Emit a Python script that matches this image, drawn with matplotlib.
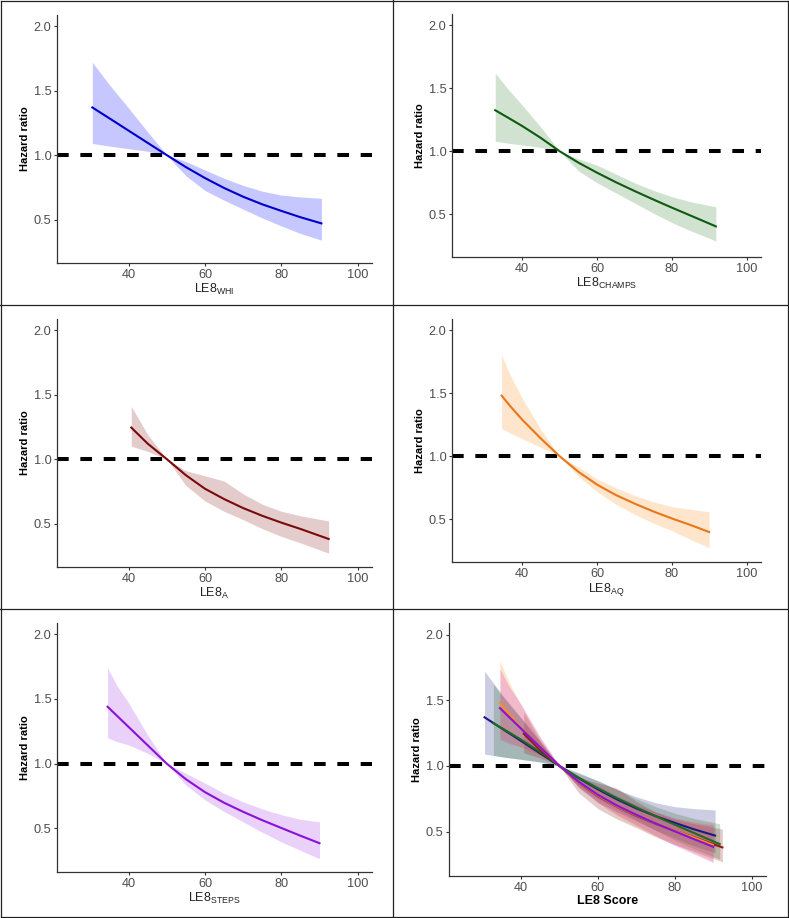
import matplotlib
matplotlib.use("Agg")
import matplotlib.pyplot as plt
from matplotlib.lines import Line2D

plt.rcParams['font.family'] = ['Liberation Sans', 'DejaVu Sans']
plt.rcParams['mathtext.fontset'] = 'custom'
plt.rcParams['mathtext.rm'] = 'Liberation Sans'
plt.rcParams['mathtext.bf'] = 'Liberation Sans:bold'

# values (score -> hazard ratio, lower / upper 95% CI)
whi_x = [30.5, 35, 40, 45, 50, 55, 60, 65, 70, 75, 80, 85, 90.5]
whi_hr = [1.37, 1.285, 1.19, 1.095, 1.00, 0.907, 0.822, 0.745, 0.677, 0.618, 0.567, 0.518, 0.47]
whi_lo = [1.09, 1.07, 1.05, 1.03, 1.00, 0.84, 0.725, 0.65, 0.58, 0.512, 0.45, 0.392, 0.34]
whi_hi = [1.72, 1.545, 1.365, 1.18, 1.00, 0.95, 0.885, 0.82, 0.765, 0.72, 0.69, 0.675, 0.665]

champs_x = [32.8, 36, 40, 45, 50, 55, 60, 65, 70, 75, 80, 85, 91.7]
champs_hr = [1.325, 1.27, 1.20, 1.105, 1.00, 0.91, 0.83, 0.755, 0.685, 0.618, 0.553, 0.49, 0.405]
champs_lo = [1.08, 1.065, 1.05, 1.03, 1.00, 0.845, 0.75, 0.67, 0.59, 0.51, 0.435, 0.37, 0.29]
champs_hi = [1.62, 1.50, 1.365, 1.19, 1.00, 0.94, 0.89, 0.82, 0.75, 0.69, 0.64, 0.60, 0.56]

a_x = [40.7, 45, 50, 55, 60, 65, 70, 75, 80, 85, 92.4]
a_hr = [1.245, 1.12, 1.00, 0.875, 0.77, 0.69, 0.62, 0.56, 0.507, 0.458, 0.38]
a_lo = [1.10, 1.06, 1.00, 0.795, 0.675, 0.595, 0.53, 0.46, 0.40, 0.35, 0.27]
a_hi = [1.41, 1.19, 1.00, 0.91, 0.87, 0.83, 0.73, 0.65, 0.595, 0.56, 0.52]

aq_x = [34.5, 37, 40, 45, 50, 55, 60, 65, 70, 75, 80, 85, 89.9]
aq_hr = [1.48, 1.39, 1.29, 1.14, 1.00, 0.877, 0.775, 0.693, 0.625, 0.563, 0.507, 0.455, 0.40]
aq_lo = [1.22, 1.18, 1.14, 1.07, 1.00, 0.84, 0.72, 0.62, 0.54, 0.47, 0.41, 0.34, 0.275]
aq_hi = [1.80, 1.63, 1.46, 1.21, 1.00, 0.915, 0.82, 0.75, 0.69, 0.64, 0.60, 0.58, 0.56]

steps_x = [34.5, 37, 40, 45, 50, 55, 60, 65, 70, 75, 80, 85, 90.0]
steps_hr = [1.44, 1.369, 1.284, 1.142, 1.00, 0.88, 0.78, 0.698, 0.628, 0.563, 0.503, 0.443, 0.385]
steps_lo = [1.20, 1.17, 1.145, 1.08, 1.00, 0.835, 0.72, 0.63, 0.55, 0.47, 0.395, 0.33, 0.265]
steps_hi = [1.74, 1.60, 1.47, 1.22, 1.00, 0.925, 0.85, 0.77, 0.705, 0.65, 0.605, 0.57, 0.55]

labels = [r'LE8$_{\mathrm{WHI}}$', r'LE8$_{\mathrm{CHAMPS}}$', r'LE8$_{\mathrm{A}}$',
          r'LE8$_{\mathrm{AQ}}$', r'LE8$_{\mathrm{STEPS}}$']
line_cols = ['#0000CD', '#0F5A0F', '#7A0A0A', '#E8761A', '#8A12D8']
band_cols = ['#0000FF', '#2E7D2E', '#8B1A1A', '#FF8C1A', '#9B30E8']
mix_cols = ['#1A1A80', '#1E6B1E', '#8B1A1A', '#FF8C1A', '#C020C0']

series = [
    (whi_x, whi_hr, whi_lo, whi_hi),
    (champs_x, champs_hr, champs_lo, champs_hi),
    (a_x, a_hr, a_lo, a_hi),
    (aq_x, aq_hr, aq_lo, aq_hi),
    (steps_x, steps_hr, steps_lo, steps_hi),
]

W, H = 789, 918
fig = plt.figure(figsize=(W / 100, H / 100), dpi=100)

# panel boxes in pixels: left, top, right, bottom
boxes = [(57, 15, 372, 263), (452, 14, 761, 257),
         (57, 319, 372, 567), (452, 319, 761, 562),
         (57, 623, 372, 872), (449, 623, 766, 876)]


def make_ax(box):
    l, t, r, b = box
    ax = fig.add_axes([l / W, 1 - b / H, (r - l) / W, (b - t) / H])
    ax.set_xlim(21.25, 103.75)
    ax.set_ylim(0.1625, 2.0875)
    ax.set_xticks([40, 60, 80, 100])
    ax.set_yticks([0.5, 1.0, 1.5, 2.0])
    ax.set_yticklabels(['0.5', '1.0', '1.5', '2.0'])
    for s in ['top', 'right']:
        ax.spines[s].set_visible(False)
    for s in ['left', 'bottom']:
        ax.spines[s].set_color('#333333')
        ax.spines[s].set_linewidth(0.9)
    ax.tick_params(length=2.5, width=0.8, color='#333333', labelsize=9.2,
                   labelcolor='#4D4D4D', pad=1.5)
    ax.axhline(1.0, color='black', lw=2.9, dashes=(2.9, 2.9), zorder=1)
    ax.set_ylabel('Hazard ratio', fontsize=8, fontweight='bold', labelpad=3)
    return ax


for i, (x, hr, lo, hi) in enumerate(series):
    ax = make_ax(boxes[i])
    ax.fill_between(x, lo, hi, color=band_cols[i], alpha=0.22, lw=0, zorder=2)
    ax.plot(x, hr, color=line_cols[i], lw=1.5, zorder=3)
    ax.set_xlabel(labels[i], fontsize=9, color='#222222', labelpad=1)

ax = make_ax(boxes[5])
for i, (x, hr, lo, hi) in enumerate(series):
    ax.fill_between(x, lo, hi, color=mix_cols[i], alpha=0.22, lw=0, zorder=2)
for i, (x, hr, lo, hi) in enumerate(series):
    ax.plot(x, hr, color=mix_cols[i] if i != 4 else line_cols[i], lw=1.5, zorder=3)
ax.set_xlabel('LE8 Score', fontsize=9, fontweight='bold', labelpad=1)

# panel frame lines
for (x0, y0, x1, y1) in [(0.5, 0.5, 787.5, 0.5), (0.5, 916.5, 787.5, 916.5),
                         (0.5, 0.5, 0.5, 916.5), (787.5, 0.5, 787.5, 916.5),
                         (393, 0, 393, 918), (0, 305, 789, 305), (0, 609, 789, 609)]:
    fig.add_artist(Line2D([x0 / W, x1 / W], [1 - y0 / H, 1 - y1 / H],
                          color='#222222', lw=0.9))

fig.savefig('out.png', dpi=100)
